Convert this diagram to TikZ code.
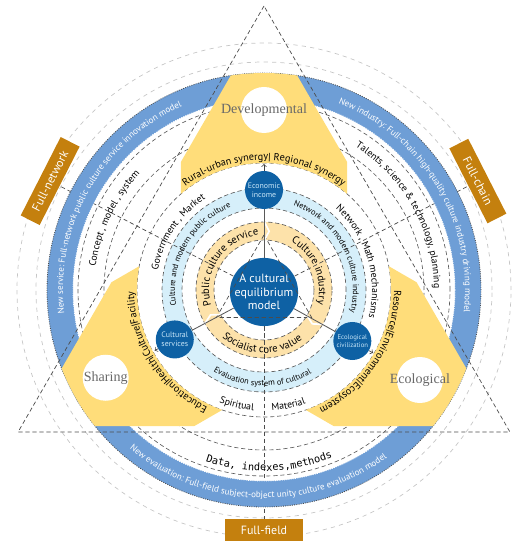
\documentclass[tikz,border=0pt]{standalone}
\usepackage{fontspec}
\setmainfont{PT Sans}
\newfontfamily\zonefont{Liberation Serif}
\newfontfamily\datafont{DejaVu Sans Mono}
\usetikzlibrary{positioning,calc,decorations.text}

\definecolor{bandblue}{RGB}{110,158,214}
\definecolor{ringblue}{RGB}{214,239,250}
\definecolor{ringorange}{RGB}{253,226,170}
\definecolor{zoneyellow}{RGB}{255,221,122}
\definecolor{coreblue}{RGB}{14,97,164}
\definecolor{tagorange}{RGB}{196,128,14}
\definecolor{hubtext}{RGB}{200,230,248}
\definecolor{zonegray}{RGB}{105,105,105}

\newcommand{\fsband}{\fontsize{6.4}{7}\selectfont}
\newcommand{\fsouter}{\fontsize{7}{8}\selectfont}
\newcommand{\fsdata}{\datafont\fontsize{7.3}{8}\selectfont}
\newcommand{\fsyellow}{\fontsize{7.3}{8}\selectfont}
\newcommand{\fsmid}{\fontsize{7}{8}\selectfont}
\newcommand{\fsthin}{\fontsize{5.9}{7}\selectfont}
\newcommand{\fsring}{\fontsize{7.5}{8}\selectfont}

\begin{document}
\begin{tikzpicture}[x=0.025cm, y=0.025cm,
    graycirc/.style={gray!45, dashed, line width=0.5pt},
    ringdash/.style={black!65, densely dashed, line width=0.45pt},
    banddot/.style={black!70, densely dotted, line width=0.6pt},
    raydash/.style={black!70, densely dashed, line width=0.5pt},
    coreball/.style={circle, fill=coreblue, minimum size=1.5cm, inner sep=0pt, align=center, text=white, font=\fontsize{8.5}{9.5}\selectfont},
    hubball/.style={circle, fill=coreblue, minimum size=0.95cm, inner sep=0pt, align=center, text=hubtext, font=\fontsize{5.6}{6.4}\selectfont},
    whitespot/.style={circle, fill=white, minimum size=1.15cm, inner sep=0pt},
    zonelabel/.style={text=zonegray, font=\zonefont\fontsize{10}{12}\selectfont},
    tagbox/.style={fill=tagorange, text=white, minimum height=0.53cm, inner sep=0pt, font=\fontsize{8.5}{10}\selectfont},
    spoke/.style={black!65, line width=0.6pt},
    outarrow/.style={->, black!75, line width=0.5pt},
    arctext/.style={decorate, decoration={text along path, text align=center, text format delimiters={[}{]}, text={#1}}},
    bandtext/.style={decorate, decoration={text along path, text align=center, text color=white, text format delimiters={[}{]}, text={#1}}}
]
    \useasboundingbox (-264,-260) rectangle (264,290);

    % Outer guide circles
    \draw[graycirc] (0,0) circle[radius=228];
    \draw[graycirc] (0,0) circle[radius=247];

    % Inner rings
    \fill[ringorange, even odd rule] (0,0) circle[radius=68] (0,0) circle[radius=50];
    \fill[ringblue, even odd rule] (0,0) circle[radius=102] (0,0) circle[radius=82];

    % Core and tags
    \node[coreball] (core) at (0,-2) {A cultural\\equilibrium\\model};
    \node[tagbox, minimum width=2.2cm, rotate=63] (fullnet) at (153:240) {Full-network};
    \node[tagbox, minimum width=2.1cm, rotate=-63] (fullchain) at (27:240) {Full-chain};
    \node[tagbox, minimum width=1.95cm] (fullfield) at (270:240) {Full-field};

    % Rays
    \draw[raydash] (core) -- (fullnet);
    \draw[raydash] (core) -- (fullchain);
    \draw[raydash] (core) -- (fullfield);
    \draw[raydash] (90:55) -- (210:55) -- (330:55) -- cycle;

    % Blue band
    \fill[bandblue, even odd rule] (0,0) circle[radius=217] (0,0) circle[radius=191];
    \foreach \r in {50,68,82,102,127,160,186}
        \draw[ringdash] (0,0) circle[radius=\r];
    \draw[banddot] (0,0) circle[radius=217];
    \draw[banddot, white] (0,0) circle[radius=191];

    % Big triangle
    \draw[raydash] (90:284) -- (210:284) -- (330:284) -- cycle;

    % Yellow zones
    \foreach \a in {0,120,240}{
        \begin{scope}[rotate=\a]
            \clip (-83,0) rectangle (83,300);
            \clip (90:272) -- (210:272) -- (330:272) -- cycle;
            \fill[zoneyellow, even odd rule] (0,0) circle[radius=217] (0,0) circle[radius=127];
        \end{scope}
    }
    \node[whitespot] (devspot) at (90:180) {};
    \node[whitespot] (sharespot) at (209:181) {};
    \node[whitespot] (ecospot) at (330:180) {};
    \node[zonelabel] (devlabel) at (devspot) {Developmental};
    \node[zonelabel] (sharelabel) at (sharespot) {Sharing};
    \node[zonelabel] (ecolabel) at (ecospot) {Ecological};

    % Ring cuts
    \foreach \a in {90,210,330}
        \draw[white, line width=1.2pt] (\a:49) -- ({\a-5}:59) -- (\a:69);

    % Hubs
    \node[hubball] (econ) at (90:100) {Economic\\income};
    \node[hubball] (cult) at (209:102) {Cultural\\services};
    \node[hubball, font=\fontsize{4.8}{5.6}\selectfont] (eco) at (330:102) {Ecological\\civilization};
    \draw[spoke] (core) -- (econ);
    \draw[spoke] (core) -- (cult);
    \draw[spoke] (core) -- (eco);
    \coordinate (econtip) at (90:126);
    \coordinate (culttip) at (209:125);
    \coordinate (ecotip) at (330:126);
    \draw[outarrow] (econ) -- (econtip);
    \draw[outarrow] (cult) -- (culttip);
    \draw[outarrow] (eco) -- (ecotip);

    % Band texts
    \path[bandtext={[\fsband]New service: Full-network public culture service innovation model}] (240.5:201) arc[start angle=240.5, end angle=60.5, radius=201];
    \path[bandtext={[\fsband]New industry: Full-chain high-quality culture industry driving model}] (121:201) arc[start angle=121, end angle=-59, radius=201];
    \path[bandtext={[\fsband]New evaluation: Full-field subject-object unity culture evaluation model}] (178:208) arc[start angle=178, end angle=358, radius=208];

    % Outer ring texts
    \path[arctext={[\fsouter]Concept , model , system}] (244.5:170) arc[start angle=244.5, end angle=64.5, radius=170];
    \path[arctext={[\fsouter]Talents, science {\&} technology, planning}] (119:170) arc[start angle=119, end angle=-61, radius=170];
    \path[arctext={[\fsdata]Data, indexes,methods}] (181.7:181) arc[start angle=181.7, end angle=361.7, radius=181];

    % Yellow texts
    \path[arctext={[\fsyellow]Rural-urban synergy| Regional synergy}] (180:130) arc[start angle=180, end angle=0, radius=130];
    \path[arctext={[\fsyellow]Education|Health|Culture|Facility}] (302.5:130) arc[start angle=302.5, end angle=122.5, radius=130];
    \path[arctext={[\fsyellow]Resource|Environment|Ecosystem}] (57.5:130) arc[start angle=57.5, end angle=-122.5, radius=130];

    % Middle ring texts
    \path[arctext={[\fsmid]Government , Market}] (236:108) arc[start angle=236, end angle=56, radius=108];
    \path[arctext={[\fsmid]Network , Math mechanisms}] (107:108) arc[start angle=107, end angle=-73, radius=108];
    \path[arctext={[\fsmid]Spiritual}] (226.7:121) arc[start angle=226.7, end angle=286.7, radius=121];
    \path[arctext={[\fsmid]Material}] (252:121) arc[start angle=252, end angle=312, radius=121];

    % Light blue ring texts
    \path[arctext={[\fsthin]Culture and modern public culture}] (241:89) arc[start angle=241, end angle=61, radius=89];
    \path[arctext={[\fsthin]Network and modern culture industry}] (118:89) arc[start angle=118, end angle=-62, radius=89];
    \path[arctext={[\fsthin]Evaluation system of cultural}] (179:96) arc[start angle=179, end angle=359, radius=96];

    % Orange ring texts
    \path[arctext={[\fsring]Public culture service}] (236:55) arc[start angle=236, end angle=56, radius=55];
    \path[arctext={[\fsring]Culture industry}] (113:55) arc[start angle=113, end angle=-67, radius=55];
    \path[arctext={[\fsring]Socialist core value}] (178:63) arc[start angle=178, end angle=358, radius=63];
\end{tikzpicture}
\end{document}
